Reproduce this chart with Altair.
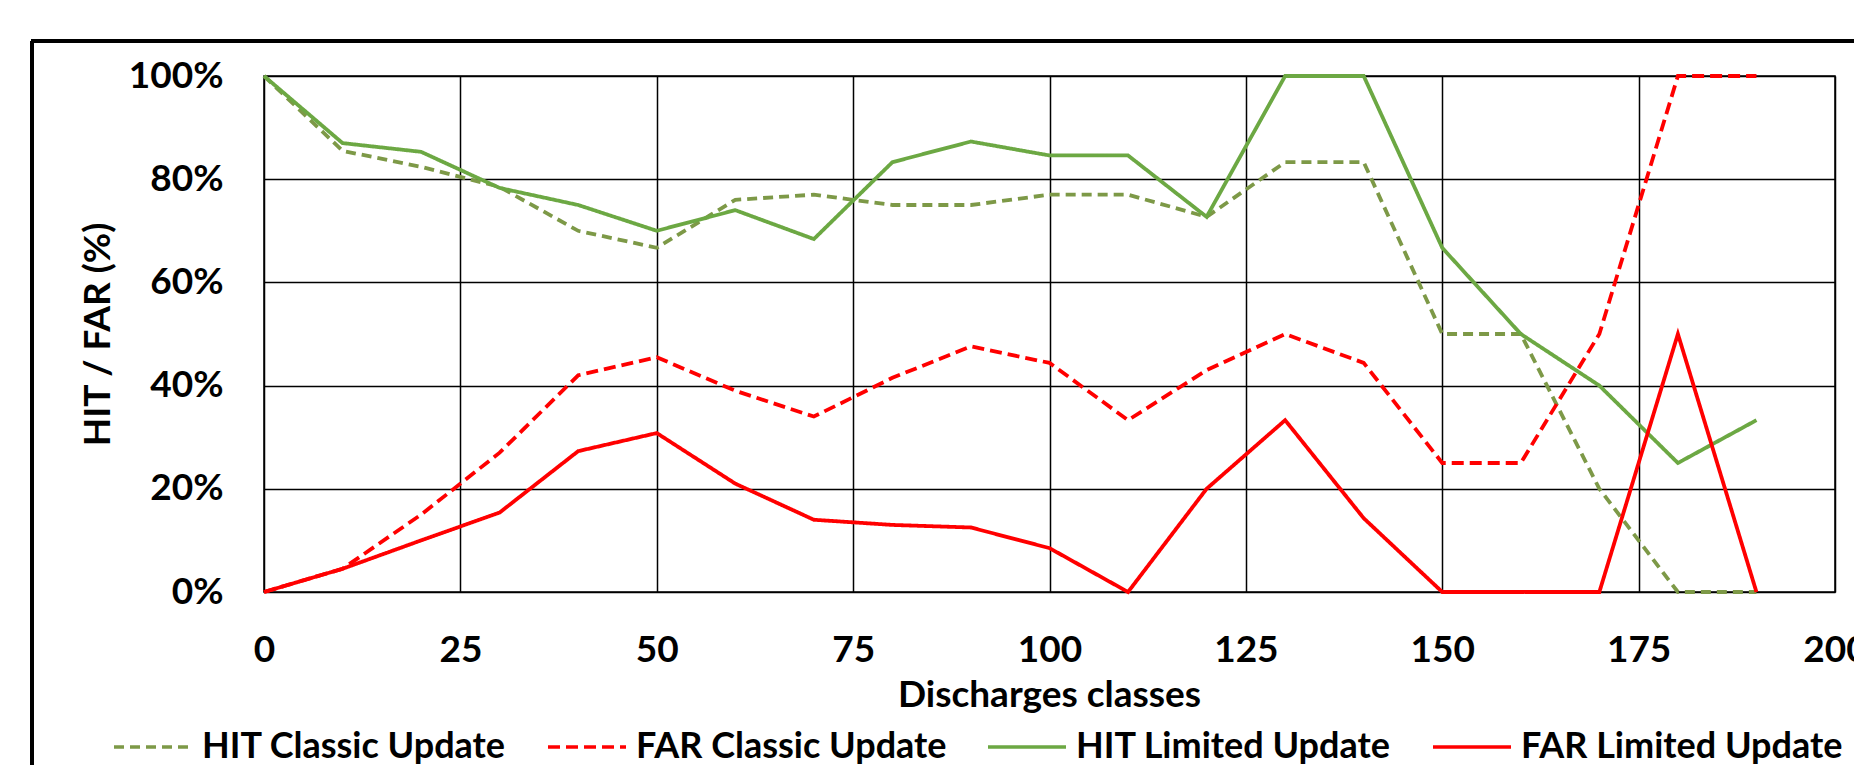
import altair as alt
import pandas as pd

# ---- data ----
discharge_classes = [0, 10, 20, 30, 40, 50, 60, 70, 80, 90, 100, 110, 120, 130, 140, 150, 160, 170, 180, 190]
hit_classic = [100, 85.5, 82.4, 78.5, 70, 66.7, 76, 77, 75, 75, 77, 77, 72.7, 83.3, 83.3, 50, 50, 20, 0, 0]
far_classic = [0, 4.5, 15, 27, 42, 45.5, 39, 34, 41.5, 47.6, 44.4, 33.3, 43, 50, 44.4, 25, 25, 50, 100, 100]
hit_limited = [100, 87, 85.3, 78.3, 75, 70, 74, 68.4, 83.3, 87.3, 84.6, 84.6, 72.7, 100, 100, 66.7, 50, 40, 25, 33.3]
far_limited = [0, 4.5, 10, 15.4, 27.3, 30.8, 21, 14, 13, 12.5, 8.5, 0, 20, 33.3, 14.3, 0, 0, 0, 50, 0]

series_names = ["HIT Classic Update", "FAR Classic Update", "HIT Limited Update", "FAR Limited Update"]
series_colors = ["#7D9947", "#FF0000", "#6CA843", "#FF0000"]
series_dashes = [[10, 6], [12, 6], [1, 0], [1, 0]]

x_ticks = [0, 25, 50, 75, 100, 125, 150, 175, 200]
y_ticks = [0, 0.2, 0.4, 0.6, 0.8, 1.0]

rows = []
for name, vals in zip(series_names, [hit_classic, far_classic, hit_limited, far_limited]):
    for xc, v in zip(discharge_classes, vals):
        rows.append({"cls": xc, "value": v / 100.0, "series": name})
df = pd.DataFrame(rows)

FONT = "Lato"

legend = alt.Legend(
    orient="none", legendX=-152, legendY=630, direction="horizontal", columns=4,
    title=None, symbolType="stroke", symbolSize=6084, symbolStrokeWidth=3.5,
    labelFont=FONT, labelFontSize=36, labelFontWeight="bold", labelColor="black",
    labelOffset=8, columnPadding=34, labelLimit=0, padding=0,
)

lines = alt.Chart(df).mark_line(strokeWidth=3.8, strokeCap="butt", strokeJoin="miter").encode(
    x=alt.X("cls:Q",
            scale=alt.Scale(domain=[0, 200], nice=False, zero=False),
            axis=alt.Axis(values=x_ticks, title="Discharges classes", grid=True,
                          gridColor="black", gridWidth=1.5, gridOpacity=1,
                          ticks=False, domain=False, labelPadding=40,
                          labelFont=FONT, labelFontSize=37, labelFontWeight="bold",
                          labelColor="black", labelFlush=False,
                          titleFont=FONT, titleFontSize=37, titleFontWeight="bold",
                          titleColor="black", titleX=785, titleY=114,
                          titleBaseline="alphabetic", titleAlign="center")),
    y=alt.Y("value:Q",
            scale=alt.Scale(domain=[0, 1], nice=False),
            axis=alt.Axis(values=y_ticks, format=".0%", title="HIT / FAR (%)", grid=True,
                          gridColor="black", gridWidth=1.5, gridOpacity=1,
                          ticks=False, domain=False, labelPadding=41,
                          labelFont=FONT, labelFontSize=37, labelFontWeight="bold",
                          labelColor="black",
                          titleFont=FONT, titleFontSize=37, titleFontWeight="bold",
                          titleColor="black", titleX=-166, titleY=258,
                          titleAngle=270, titleBaseline="middle", titleAlign="center")),
    color=alt.Color("series:N", scale=alt.Scale(domain=series_names, range=series_colors),
                    sort=series_names, legend=legend),
    strokeDash=alt.StrokeDash("series:N", scale=alt.Scale(domain=series_names, range=series_dashes),
                              sort=series_names, legend=legend),
    order=alt.Order("cls:Q"),
)

frame_left = alt.Chart(df).mark_rule(color="black", strokeWidth=2.5).encode(
    x=alt.value(-232), y=alt.value(-35), y2=alt.value(720))
frame_top = alt.Chart(df).mark_rule(color="black", strokeWidth=2.5).encode(
    x=alt.value(-233), x2=alt.value(1620), y=alt.value(-35))

chart = alt.layer(frame_left, frame_top, lines).properties(
    width=1571, height=516,
    autosize=alt.AutoSizeParams(type="none"),
    padding={"left": 256, "top": 68, "right": 19, "bottom": 173},
    background="white",
).configure_view(stroke="black", strokeWidth=1.5)

chart.save("out.html", embed_options={"renderer": "svg", "actions": False})
